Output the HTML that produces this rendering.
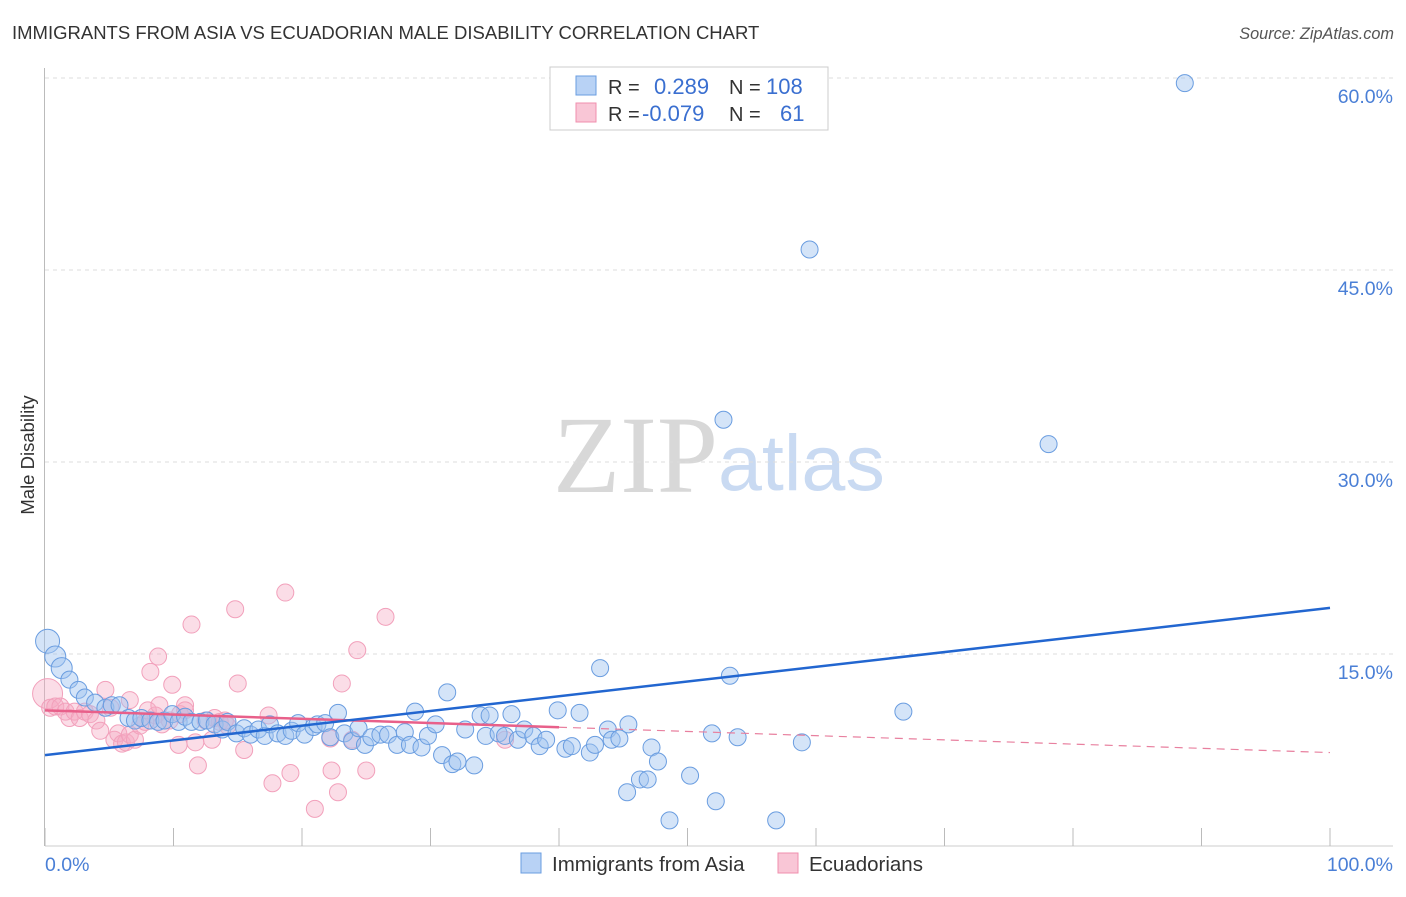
<!DOCTYPE html>
<html><head><meta charset="utf-8"><style>
body{margin:0;background:#fff;font-family:"Liberation Sans",sans-serif;}
</style></head><body>
<svg id="chart" width="1406" height="892" xmlns="http://www.w3.org/2000/svg">
<text x="12" y="39" font-size="18.5" fill="#333">IMMIGRANTS FROM ASIA VS ECUADORIAN MALE DISABILITY CORRELATION CHART</text>
<text x="1394" y="39" font-size="16.3" fill="#555" font-style="italic" text-anchor="end">Source: ZipAtlas.com</text>
<text x="553" y="492" font-size="110" fill="#d8d8d8" font-family="Liberation Serif,serif">ZIP</text>
<text x="718" y="490" font-size="79" fill="#c9daf2">atlas</text>
<text transform="translate(34,455) rotate(-90)" font-size="18.5" fill="#333" text-anchor="middle">Male Disability</text>
<g id="grid"></g><g id="pts"></g><g id="lines"></g>
<g>
<rect x="550" y="67" width="278" height="63" fill="#fff" stroke="#ccc"/>
<rect x="576" y="76" width="20" height="19" fill="#b8d2f5" stroke="#6a9de0"/>
<rect x="576" y="103" width="20" height="19" fill="#f9c6d6" stroke="#f08fae"/>
<text x="608" y="94" font-size="20" fill="#333">R = </text><text x="654" y="94" font-size="22" fill="#3a6fd0">0.289</text>
<text x="729" y="94" font-size="20" fill="#333">N = </text><text x="766" y="94" font-size="22" fill="#3a6fd0">108</text>
<text x="608" y="121" font-size="20" fill="#333">R = </text><text x="642" y="121" font-size="22" fill="#3a6fd0">-0.079</text>
<text x="729" y="121" font-size="20" fill="#333">N = </text><text x="780" y="121" font-size="22" fill="#3a6fd0">61</text>
</g>
<g>
<rect x="521" y="853" width="20" height="20" fill="#b8d2f5" stroke="#6a9de0"/>
<text x="552" y="871" font-size="20.5" fill="#333">Immigrants from Asia</text>
<rect x="778" y="853" width="20" height="20" fill="#f9c6d6" stroke="#f08fae"/>
<text x="809" y="871" font-size="20.5" fill="#333">Ecuadorians</text>
</g>
</svg>
<script>
const yTicks=[15,30,45,60];
const yTickLabels=["15.0%","30.0%","45.0%","60.0%"];
const xTicks=[0,10,20,30,40,50,60,70,80,90,100];
const asiaX=[0.2,0.8,1.3,1.9,2.6,3.1,3.9,4.7,5.2,5.8,6.5,7.0,7.5,8.2,8.8,9.3,9.9,10.4,10.9,11.4,12.1,12.6,13.2,13.8,14.2,14.9,15.5,16.0,16.6,17.1,17.5,18.1,18.7,19.2,19.7,20.2,20.9,21.2,21.8,22.2,22.8,23.3,23.9,24.4,24.9,25.4,26.1,26.7,27.4,28.0,28.4,28.8,29.3,29.8,30.4,30.9,31.3,31.7,32.1,32.7,33.4,33.9,34.3,34.6,35.3,35.8,36.3,36.8,37.3,38.0,38.5,39.0,39.9,40.5,41.0,41.6,42.4,42.8,43.2,43.8,44.1,44.7,45.4,46.3,46.9,47.2,47.7,48.6,50.2,51.9,52.2,53.3,53.9,56.9,58.9,59.5,52.8,66.8,78.1,88.7,45.3];
const asiaY=[16.0,14.8,13.9,13.0,12.2,11.6,11.2,10.8,11.0,11.0,10.0,9.8,10.0,9.8,9.7,9.8,10.3,9.7,10.1,9.7,9.7,9.8,9.5,9.1,9.7,8.8,9.2,8.7,9.1,8.6,9.5,8.8,8.6,9.0,9.6,8.7,9.3,9.5,9.6,8.5,10.4,8.8,8.2,9.2,7.9,8.5,8.7,8.7,7.9,8.9,7.9,10.5,7.7,8.6,9.5,7.1,12.0,6.4,6.6,9.1,6.3,10.2,8.6,10.2,8.8,8.6,10.3,8.3,9.1,8.6,7.8,8.3,10.6,7.6,7.8,10.4,7.3,7.9,13.9,9.1,8.3,8.4,9.5,5.2,5.2,7.7,6.6,2.0,5.5,8.8,3.5,13.3,8.5,2.0,8.1,46.6,33.3,10.5,31.4,59.6,4.2];
const ecuX=[0.2,0.4,0.8,1.2,1.6,1.9,2.3,2.7,3.1,3.5,4.0,4.3,4.7,5.1,5.4,5.7,6.0,6.3,6.6,7.0,7.4,7.8,8.2,8.6,8.8,9.1,9.7,9.9,10.4,10.5,10.9,11.4,11.7,11.9,12.5,13.0,13.6,14.2,14.8,15.0,15.5,17.4,17.7,18.7,19.1,21.0,22.2,22.3,22.8,23.1,23.9,24.3,25.0,26.5,35.8,6.6,8.0,8.9,10.9,13.2,14.0];
const ecuY=[11.9,10.8,10.9,10.9,10.5,10.0,10.5,10.0,10.5,10.3,9.8,9.0,12.2,10.8,8.3,8.8,8.0,8.1,8.7,8.3,9.4,9.7,13.6,10.2,14.8,9.5,9.8,12.6,7.9,10.3,11.0,17.3,8.1,6.3,9.8,8.3,9.7,9.4,18.5,12.7,7.5,10.2,4.9,19.8,5.7,2.9,8.4,5.9,4.2,12.7,8.3,15.3,5.9,17.9,8.3,11.4,10.6,11.0,10.6,10.0,9.8];
const asiaTrend=[7.1,18.6];
const ecuTrend=[10.6,7.3];
const ecuSolidEnd=40;
const NS="http://www.w3.org/2000/svg";
const sx=v=>45+v*12.85, sy=v=>846-v*12.8;
function mk(tag,attrs,parent){const e=document.createElementNS(NS,tag);for(const k in attrs)e.setAttribute(k,attrs[k]);parent.appendChild(e);return e;}
const grid=document.getElementById('grid');
yTicks.forEach((t,i)=>{
 const l=mk('line',{x1:45,x2:1393,y1:sy(t),y2:sy(t),stroke:'#ddd','stroke-dasharray':'4,4'},grid);
 
 
 const tx=mk('text',{x:1393,y:sy(t)+25,'font-size':19.5,fill:'#4a7fd6','text-anchor':'end'},grid);
 tx.textContent=yTickLabels[i];
 
 
});
const ga=mk('line',{x1:45,x2:1393,y1:846,y2:846,stroke:'#ccc'},grid);


const gy=mk('line',{x1:44.5,x2:44.5,y1:68,y2:846,stroke:'#bbb'},grid);


xTicks.forEach(t=>{const l=mk('line',{x1:sx(t),x2:sx(t),y1:828,y2:846,stroke:'#bbb'},grid);
 
 });
const x0=mk('text',{x:45,y:871,'font-size':19.5,fill:'#4a7fd6'},grid);x0.textContent='0.0%';


const x1=mk('text',{x:1393,y:871,'font-size':19.5,fill:'#4a7fd6','text-anchor':'end'},grid);x1.textContent='100.0%';


const pts=document.getElementById('pts');
ecuX.forEach((x,i)=>{const c=mk('circle',{cx:sx(x),cy:sy(ecuY[i]),r:i==0?15:8.5,fill:'rgba(245,170,195,0.4)',stroke:'#f2a0bb','stroke-width':1},pts);
 
 });
asiaX.forEach((x,i)=>{const c=mk('circle',{cx:sx(x),cy:sy(asiaY[i]),r:i==0?12:(i<3?10.5:8.5),fill:'rgba(160,195,240,0.45)',stroke:'#6a9de0','stroke-width':1},pts);
 
 });
const lines=document.getElementById('lines');
const ev=x=>ecuTrend[0]+(ecuTrend[1]-ecuTrend[0])*x/100;
const ld=mk('line',{x1:sx(ecuSolidEnd),y1:sy(ev(ecuSolidEnd)),x2:sx(100),y2:sy(ecuTrend[1]),stroke:'#e8809f','stroke-width':1.2,'stroke-dasharray':'8,6'},lines);


const ls=mk('line',{x1:sx(0),y1:sy(ecuTrend[0]),x2:sx(ecuSolidEnd),y2:sy(ev(ecuSolidEnd)),stroke:'#e8608a','stroke-width':2.5},lines);


const lb=mk('line',{x1:sx(0),y1:sy(asiaTrend[0]),x2:sx(100),y2:sy(asiaTrend[1]),stroke:'#2266d0','stroke-width':2.5},lines);


</script>
</body></html>
